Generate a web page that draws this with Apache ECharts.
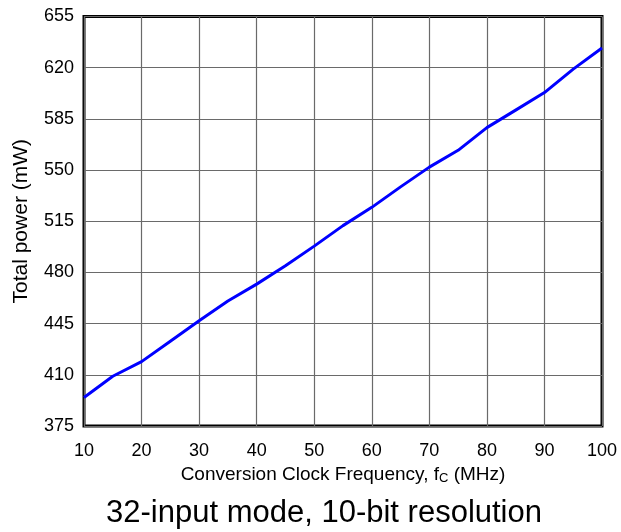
<!DOCTYPE html>
<html>
<head>
<meta charset="utf-8">
<script src="https://cdn.jsdelivr.net/npm/echarts@6/dist/echarts.min.js"></script>
<style>html,body{margin:0;padding:0;background:#fff}#c{width:621px;height:532px}</style>
</head>
<body>
<div id="c"></div>
<script>
const freqMHz = [10, 15, 20, 25, 30, 35, 40, 45, 50, 55, 60, 65, 70, 75, 80, 85, 90, 95, 100];
const powerMW = [394.5, 409, 419, 433, 447, 460.5, 472, 484.5, 498, 512, 524.5, 538.5, 552, 563.5, 579, 591, 603, 619, 633.5];
const yTickLabels = [375, 410, 445, 480, 515, 550, 585, 620, 655];
const xTickLabels = [10, 20, 30, 40, 50, 60, 70, 80, 90, 100];
const yBase = yTickLabels[0];
const yStep = yTickLabels[1] - yTickLabels[0];

const FONT = '"Liberation Sans", Arial, Helvetica, sans-serif';
const chart = echarts.init(document.getElementById('c'), null, {renderer: 'canvas'});
chart.setOption({
  animation: false,
  backgroundColor: '#fff',
  title: {
    text: '32-input mode, 10-bit resolution',
    left: 319, top: 493, textAlign: 'center',
    textStyle: {fontFamily: FONT, fontSize: 31, fontWeight: 'normal', color: '#000'}
  },
  grid: {
    left: 84, right: 19, top: 16.5, bottom: 106,
    show: true, borderColor: '#000', borderWidth: 3, backgroundColor: 'transparent'
  },
  xAxis: {
    type: 'value', min: xTickLabels[0], max: xTickLabels[xTickLabels.length - 1], interval: 10,
    axisLine: {show: false}, axisTick: {show: false},
    splitLine: {show: true, lineStyle: {color: '#6a6a6a', width: 1.2}},
    axisLabel: {fontFamily: FONT, fontSize: 18, color: '#000', margin: 16},
    name: '{a|Conversion Clock Frequency, f}{s|C}{a| (MHz)}',
    nameLocation: 'middle', nameGap: 33,
    nameTextStyle: {
      rich: {
        a: {fontFamily: FONT, fontSize: 19, color: '#000'},
        s: {fontFamily: FONT, fontSize: 13, color: '#000', verticalAlign: 'bottom', padding: [9, 0, 0, 0]}
      }
    }
  },
  yAxis: {
    type: 'value', min: 0, max: yTickLabels[yTickLabels.length - 1] - yBase, interval: yStep,
    axisLine: {show: false}, axisTick: {show: false},
    splitLine: {show: true, lineStyle: {color: '#6a6a6a', width: 1.2}},
    axisLabel: {fontFamily: FONT, fontSize: 18, color: '#000', margin: 10,
      formatter: v => String(v + yBase)},
    name: 'Total power (mW)', nameLocation: 'middle', nameGap: 52,
    nameTextStyle: {fontFamily: FONT, fontSize: 21, color: '#000'}
  },
  series: [{
    type: 'line',
    data: freqMHz.map((f, i) => [f, powerMW[i] - yBase]),
    showSymbol: false, symbol: 'none',
    lineStyle: {color: '#0000ff', width: 3},
    smooth: false
  }]
});
</script>
</body>
</html>
